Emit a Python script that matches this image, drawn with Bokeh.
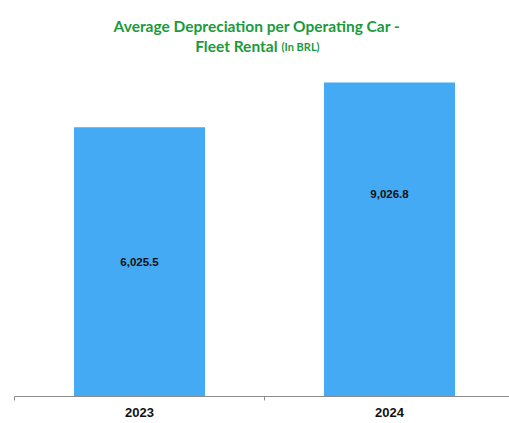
from bokeh.plotting import figure
from bokeh.models import Range1d, FixedTicker, Label, ColumnDataSource
from bokeh.embed import file_html
from bokeh.resources import INLINE
from bokeh.core.properties import value

categories = ["2023", "2024"]
depreciation = [6025.5, 9026.8]
value_labels = ["6,025.5", "9,026.8"]

BASE = -12000
xpos = [i + 0.5 for i in range(len(categories))]
label_frac = [0.5, 0.646]
label_y = [BASE + f * (v - BASE) for f, v in zip(label_frac, depreciation)]

W, H = 509, 423
FL, FB = 14, 396  # frame left / bottom in canvas pixels
UNITS_PER_PX = 22500 / 336
y_end = BASE + FB * UNITS_PER_PX  # frame spans whole height down to the axis

p = figure(width=W, height=H, output_backend="svg", toolbar_location=None,
           x_range=Range1d(0, 1.98), y_range=Range1d(BASE, y_end),
           min_border_left=FL, min_border_right=0, min_border_top=0,
           min_border_bottom=H - FB)
p.outline_line_color = None
p.grid.visible = False
p.yaxis.visible = False
p.background_fill_color = "white"
p.border_fill_color = "white"

src = ColumnDataSource(dict(x=xpos, top=depreciation, ly=label_y, lab=value_labels))
p.vbar(x="x", top="top", bottom=BASE, width=0.524, source=src,
       fill_color="#44aaf4", line_color=None)
p.text(x="x", y="ly", text="lab", source=src, text_align="center", text_baseline="middle",
       text_font=value("Liberation Sans"), text_font_style="bold", text_font_size="11.5px",
       text_color="#111111")

ax = p.xaxis[0]
ax.ticker = FixedTicker(ticks=xpos, minor_ticks=[0, 1, 2])
ax.major_label_overrides = {x: c for x, c in zip(xpos, categories)}
ax.major_tick_line_color = None
ax.minor_tick_in = 0
ax.minor_tick_out = 4
ax.minor_tick_line_color = "#8c8c8c"
ax.axis_line_color = "#8c8c8c"
ax.major_label_text_font = "Liberation Sans"
ax.major_label_text_font_style = "bold"
ax.major_label_text_font_size = "13px"
ax.major_label_text_color = "#111111"
ax.major_label_standoff = 5

green = "#1b9a3c"
def title_label(text, x, y, align, size):
    return Label(x=x - FL, y=FB - y, x_units="screen", y_units="screen",
                 text=text, text_align=align, text_baseline="middle",
                 text_font="Lato", text_font_style="bold",
                 text_font_size=size, text_color=green)

p.add_layout(title_label("Average Depreciation per Operating Car -", 256.5, 25, "center", "15.5px"))
p.add_layout(title_label("Fleet Rental", 277, 45, "right", "15.5px"))
p.add_layout(title_label("(In BRL)", 281, 46, "left", "11px"))

open("out.html", "w").write(file_html(p, INLINE))
